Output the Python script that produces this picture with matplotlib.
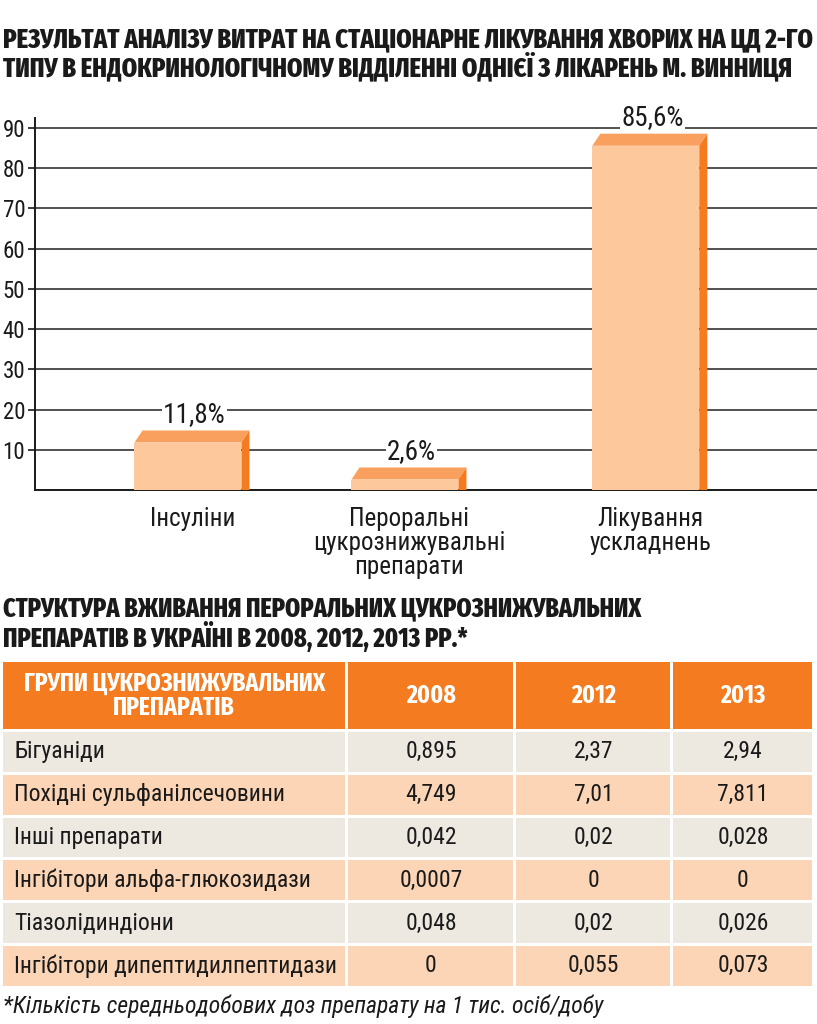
import matplotlib
matplotlib.use("Agg")
import matplotlib.pyplot as plt
from matplotlib.patches import Polygon, Rectangle

# condensed faces, with fallbacks in case one is missing
BODY = ['Roboto Condensed', 'Liberation Sans', 'DejaVu Sans']
HEAVY = ['Fira Sans Extra Condensed', 'Roboto Condensed', 'DejaVu Sans']
plt.rcParams['font.family'] = BODY

# ---- data ----
title1 = ("РЕЗУЛЬТАТ АНАЛІЗУ ВИТРАТ НА СТАЦІОНАРНЕ ЛІКУВАННЯ ХВОРИХ НА ЦД 2-ГО\n"
          "ТИПУ В ЕНДОКРИНОЛОГІЧНОМУ ВІДДІЛЕННІ ОДНІЄЇ З ЛІКАРЕНЬ М. ВИННИЦЯ")
categories = ["Інсуліни", "Пероральні\nцукрознижувальні\nпрепарати", "Лікування\nускладнень"]
shares = [11.8, 2.6, 85.6]
value_labels = ["11,8%", "2,6%", "85,6%"]
yticks = [10, 20, 30, 40, 50, 60, 70, 80, 90]

title2 = ("СТРУКТУРА ВЖИВАННЯ ПЕРОРАЛЬНИХ ЦУКРОЗНИЖУВАЛЬНИХ\n"
          "ПРЕПАРАТІВ В УКРАЇНІ В 2008, 2012, 2013 РР.*")
header = ["ГРУПИ ЦУКРОЗНИЖУВАЛЬНИХ\nПРЕПАРАТІВ", "2008", "2012", "2013"]
groups = ["Бігуаніди", "Похідні сульфанілсечовини", "Інші препарати",
          "Інгібітори альфа-глюкозидази", "Тіазолідиндіони",
          "Інгібітори дипептидилпептидази"]
v2008 = ["0,895", "4,749", "0,042", "0,0007", "0,048", "0"]
v2012 = ["2,37", "7,01", "0,02", "0", "0,02", "0,055"]
v2013 = ["2,94", "7,811", "0,028", "0", "0,026", "0,073"]
footnote = "*Кількість середньодобових доз препарату на 1 тис. осіб/добу"

# ---- colours ----
ORANGE = "#F47B20"
TOP = "#F9A05F"
FRONT = "#FDC89B"
ROW_A = "#EDE8E0"
ROW_B = "#FBD5B5"
INK = "#1a1a1a"

W, H = 817, 1024
fig = plt.figure(figsize=(W / 100, H / 100), dpi=100)

# overlay axes in pixel coords for titles and table
ov = fig.add_axes([0, 0, 1, 1])
ov.set_xlim(0, W)
ov.set_ylim(H, 0)
ov.axis("off")

ov.text(3, 54, title1, ha="left", va="center", fontsize=19.2, family=HEAVY,
        fontweight=800, color=INK, linespacing=0.95)

# ---- bar chart ----
ax = fig.add_axes([35 / W, 1 - 490 / H, (W - 35) / W, (490 - 118) / H])
bar_x = [0, 1, 2.11]
bw = 0.493
dx, dy = 0.037, 3.0
ax.set_xlim(-0.705, 2.899)
ax.set_ylim(0, 92.5)

for y in yticks:
    ax.axhline(y, color="#333333", lw=1.2, zorder=1)

for x, v, lab in zip(bar_x, shares, value_labels):
    x0, x1 = x - bw / 2, x + bw / 2
    ax.add_patch(Rectangle((x0, 0), bw, v, facecolor=FRONT, edgecolor="none", zorder=3))
    ax.add_patch(Polygon([(x0, v), (x1, v), (x1 + dx, v + dy), (x0 + dx, v + dy)],
                         closed=True, facecolor=TOP, edgecolor="none", zorder=3))
    ax.add_patch(Polygon([(x1, 0), (x1, v), (x1 + dx, v + dy), (x1 + dx, 0)],
                         closed=True, facecolor=ORANGE, edgecolor="none", zorder=3))
    ax.text(x + 0.03, v + dy + 2.2, lab, ha="center", va="baseline", fontsize=19.5,
            color=INK, zorder=4,
            bbox=dict(facecolor="white", edgecolor="none", pad=1.0))

ax.set_yticks(yticks)
ax.set_yticklabels([str(t) for t in yticks], fontsize=16.5, color=INK)
ax.tick_params(axis="y", length=5, width=1.2, direction="out", pad=2, colors=INK)
ax.set_xticks([])
for s in ["top", "right"]:
    ax.spines[s].set_visible(False)
for s in ["left", "bottom"]:
    ax.spines[s].set_linewidth(1.4)
    ax.spines[s].set_color(INK)

for x, c in zip(bar_x, categories):
    ax.text(x + 0.02, -4.3, c, ha="center", va="top", fontsize=18, color=INK,
            linespacing=0.98, clip_on=False)

# ---- table ----
ov.text(3, 624, title2, ha="left", va="center", fontsize=18.8, family=HEAVY,
        fontweight=800, color=INK, linespacing=0.95)

col_edges = [3, 347, 515, 672, 814]
gap = 3
head_top, head_bot = 662, 729
row_h = 42.8

for i, htxt in enumerate(header):
    l, r = col_edges[i] + (gap / 2 if i else 0), col_edges[i + 1] - gap / 2
    ov.add_patch(Rectangle((l, head_top), r - l, head_bot - head_top,
                           facecolor=ORANGE, edgecolor="none"))
    ov.text((l + r) / 2, (head_top + head_bot) / 2, htxt, ha="center", va="center",
            fontsize=18.5, family=HEAVY, fontweight=700, color="white", linespacing=0.95)

for j, row in enumerate(zip(groups, v2008, v2012, v2013)):
    top = head_bot + gap + j * row_h
    bot = top + row_h - gap
    fc = ROW_A if j % 2 == 0 else ROW_B
    for i, cell in enumerate(row):
        l, r = col_edges[i] + (gap / 2 if i else 0), col_edges[i + 1] - gap / 2
        ov.add_patch(Rectangle((l, top), r - l, bot - top, facecolor=fc, edgecolor="none"))
        if i == 0:
            ov.text(l + 11, (top + bot) / 2, cell, ha="left", va="center",
                    fontsize=17, color=INK)
        else:
            ov.text((l + r) / 2, (top + bot) / 2, cell, ha="center", va="center",
                    fontsize=17, color=INK)

ov.text(3, 1006, footnote, ha="left", va="center", fontsize=17,
        style="italic", color=INK)

fig.savefig("out.png", dpi=100)
